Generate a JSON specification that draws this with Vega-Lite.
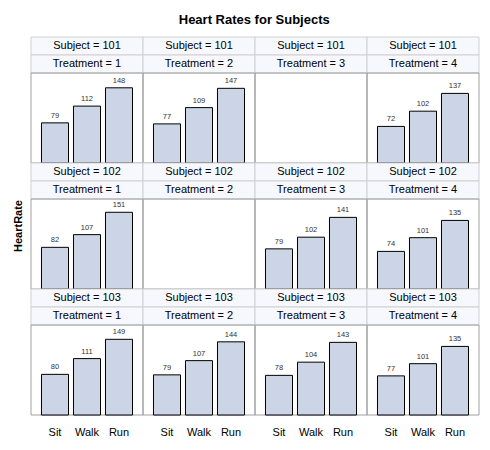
{
  "$schema": "https://vega.github.io/schema/vega-lite/v6.json",
  "padding": {"left": 12, "top": 13, "right": 5, "bottom": 5},
  "bounds": "flush",
  "title": {"text": "Heart Rates for Subjects", "font": "Liberation Sans", "fontSize": 13, "fontWeight": "bold", "anchor": "middle", "color": "#000000", "offset": 10, "dx": 8},
  "data": {"values": [
    {"Subject": 101, "Treatment": 1, "Activity": "Sit", "HeartRate": 79},
    {"Subject": 101, "Treatment": 1, "Activity": "Walk", "HeartRate": 112},
    {"Subject": 101, "Treatment": 1, "Activity": "Run", "HeartRate": 148},
    {"Subject": 101, "Treatment": 2, "Activity": "Sit", "HeartRate": 77},
    {"Subject": 101, "Treatment": 2, "Activity": "Walk", "HeartRate": 109},
    {"Subject": 101, "Treatment": 2, "Activity": "Run", "HeartRate": 147},
    {"Subject": 101, "Treatment": 3, "Activity": null, "HeartRate": null},
    {"Subject": 101, "Treatment": 4, "Activity": "Sit", "HeartRate": 72},
    {"Subject": 101, "Treatment": 4, "Activity": "Walk", "HeartRate": 102},
    {"Subject": 101, "Treatment": 4, "Activity": "Run", "HeartRate": 137},
    {"Subject": 102, "Treatment": 1, "Activity": "Sit", "HeartRate": 82},
    {"Subject": 102, "Treatment": 1, "Activity": "Walk", "HeartRate": 107},
    {"Subject": 102, "Treatment": 1, "Activity": "Run", "HeartRate": 151},
    {"Subject": 102, "Treatment": 2, "Activity": null, "HeartRate": null},
    {"Subject": 102, "Treatment": 3, "Activity": "Sit", "HeartRate": 79},
    {"Subject": 102, "Treatment": 3, "Activity": "Walk", "HeartRate": 102},
    {"Subject": 102, "Treatment": 3, "Activity": "Run", "HeartRate": 141},
    {"Subject": 102, "Treatment": 4, "Activity": "Sit", "HeartRate": 74},
    {"Subject": 102, "Treatment": 4, "Activity": "Walk", "HeartRate": 101},
    {"Subject": 102, "Treatment": 4, "Activity": "Run", "HeartRate": 135},
    {"Subject": 103, "Treatment": 1, "Activity": "Sit", "HeartRate": 80},
    {"Subject": 103, "Treatment": 1, "Activity": "Walk", "HeartRate": 111},
    {"Subject": 103, "Treatment": 1, "Activity": "Run", "HeartRate": 149},
    {"Subject": 103, "Treatment": 2, "Activity": "Sit", "HeartRate": 79},
    {"Subject": 103, "Treatment": 2, "Activity": "Walk", "HeartRate": 107},
    {"Subject": 103, "Treatment": 2, "Activity": "Run", "HeartRate": 144},
    {"Subject": 103, "Treatment": 3, "Activity": "Sit", "HeartRate": 78},
    {"Subject": 103, "Treatment": 3, "Activity": "Walk", "HeartRate": 104},
    {"Subject": 103, "Treatment": 3, "Activity": "Run", "HeartRate": 143},
    {"Subject": 103, "Treatment": 4, "Activity": "Sit", "HeartRate": 77},
    {"Subject": 103, "Treatment": 4, "Activity": "Walk", "HeartRate": 101},
    {"Subject": 103, "Treatment": 4, "Activity": "Run", "HeartRate": 135}
  ]},
  "facet": {
    "row": {"field": "Subject", "type": "ordinal", "header": {"labels": false, "labelPadding": 0, "title": "HeartRate", "titleFont": "Liberation Sans", "titleFontSize": 11, "titleFontWeight": "bold", "titleColor": "#000000", "titlePadding": -3}},
    "column": {"field": "Treatment", "type": "ordinal", "header": {"labels": false, "labelPadding": 0, "title": null}}
  },
  "spacing": {"row": 0, "column": 0},
  "spec": {
    "width": 112,
    "height": 126,
    "layer": [
      {
        "transform": [{"aggregate": [{"op": "count", "as": "n"}], "groupby": ["Subject", "Treatment"]}],
        "mark": {"type": "rect", "fill": "#f6f8fd", "stroke": "#d0d0d0", "strokeWidth": 1},
        "encoding": {
          "y": {"datum": 212.571429, "type": "quantitative", "scale": {"domain": [0, 248], "nice": false, "zero": true}, "axis": null},
          "y2": {"datum": 248}
        }
      },
      {
        "transform": [{"aggregate": [{"op": "count", "as": "n"}], "groupby": ["Subject", "Treatment"]}],
        "mark": {"type": "rect", "fill": "#f6f8fd", "stroke": "#d0d0d0", "strokeWidth": 1},
        "encoding": {
          "y": {"datum": 177.142857, "type": "quantitative", "scale": {"domain": [0, 248], "nice": false, "zero": true}, "axis": null},
          "y2": {"datum": 212.571429}
        }
      },
      {
        "transform": [{"aggregate": [{"op": "count", "as": "n"}], "groupby": ["Subject", "Treatment"]}],
        "mark": {"type": "rect", "fill": "#ffffff", "fillOpacity": 0, "stroke": "#a0a0a0", "strokeWidth": 1},
        "encoding": {
          "y": {"datum": 0, "type": "quantitative", "scale": {"domain": [0, 248], "nice": false, "zero": true}, "axis": null},
          "y2": {"datum": 177.142857}
        }
      },
      {
        "mark": {"type": "bar", "fill": "#cbd5e5", "stroke": "#000000", "strokeWidth": 1},
        "encoding": {
          "x": {"field": "Activity", "type": "nominal", "sort": ["Sit", "Walk", "Run"],
                "scale": {"domain": ["Sit", "Walk", "Run"], "paddingInner": 0.156, "paddingOuter": 0.328},
                "axis": {"title": null, "ticks": false, "domain": false, "labelAngle": 0, "labelFont": "Liberation Sans", "labelFontSize": 11, "labelColor": "#000000", "labelPadding": 11}},
          "y": {"field": "HeartRate", "type": "quantitative", "scale": {"domain": [0, 248], "nice": false, "zero": true}, "axis": null}
        }
      },
      {
        "mark": {"type": "text", "baseline": "bottom", "dy": -3, "font": "Liberation Sans", "fontSize": 7.5, "color": "#333333"},
        "encoding": {
          "x": {"field": "Activity", "type": "nominal", "sort": ["Sit", "Walk", "Run"]},
          "y": {"field": "HeartRate", "type": "quantitative", "scale": {"domain": [0, 248], "nice": false, "zero": true}, "axis": null},
          "text": {"field": "HeartRate", "type": "quantitative"}
        }
      },
      {
        "transform": [
          {"aggregate": [{"op": "count", "as": "n"}], "groupby": ["Subject", "Treatment"]},
          {"calculate": "'Subject = ' + datum.Subject", "as": "SubjectLabel"}
        ],
        "mark": {"type": "text", "baseline": "middle", "align": "center", "font": "Liberation Sans", "fontSize": 11, "color": "#000000"},
        "encoding": {
          "y": {"datum": 230.285714, "type": "quantitative", "scale": {"domain": [0, 248], "nice": false, "zero": true}, "axis": null},
          "text": {"field": "SubjectLabel", "type": "nominal"}
        }
      },
      {
        "transform": [
          {"aggregate": [{"op": "count", "as": "n"}], "groupby": ["Subject", "Treatment"]},
          {"calculate": "'Treatment = ' + datum.Treatment", "as": "TreatmentLabel"}
        ],
        "mark": {"type": "text", "baseline": "middle", "align": "center", "font": "Liberation Sans", "fontSize": 11, "color": "#000000"},
        "encoding": {
          "y": {"datum": 194.857143, "type": "quantitative", "scale": {"domain": [0, 248], "nice": false, "zero": true}, "axis": null},
          "text": {"field": "TreatmentLabel", "type": "nominal"}
        }
      }
    ]
  },
  "config": {"view": {"stroke": null}, "background": "#ffffff"}
}
